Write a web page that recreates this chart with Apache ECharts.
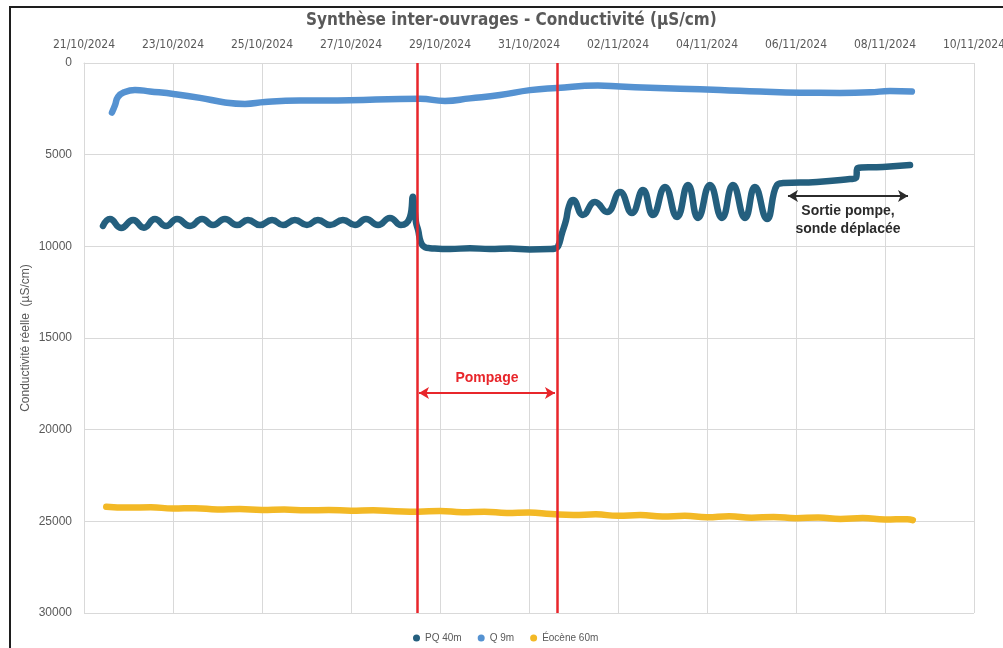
<!DOCTYPE html>
<html>
<head>
<meta charset="utf-8">
<title>Synthèse inter-ouvrages - Conductivité</title>
<script src="https://cdn.jsdelivr.net/npm/echarts@6/dist/echarts.min.js"></script>
<style>
  html, body { margin: 0; padding: 0; background: #fff; overflow: hidden; }
  #chart { width: 100vw; height: 100vh; }
</style>
</head>
<body>
<div id="chart"></div>
<script>
  // relevés : date/heure et conductivité réelle (µS/cm)
  const pqTimes = [
    '2024-10-21 10:15', '2024-10-21 14:00', '2024-10-21 20:00', '2024-10-22 02:30', '2024-10-22 08:20',
    '2024-10-22 14:15', '2024-10-22 20:15', '2024-10-23 02:10', '2024-10-23 09:10', '2024-10-23 15:40',
    '2024-10-23 21:35', '2024-10-24 04:00', '2024-10-24 10:30', '2024-10-24 16:25', '2024-10-24 22:55',
    '2024-10-25 05:25', '2024-10-25 11:20', '2024-10-25 17:45', '2024-10-26 00:15', '2024-10-26 06:10',
    '2024-10-26 12:40', '2024-10-26 19:40', '2024-10-27 02:10', '2024-10-27 08:05', '2024-10-27 14:35',
    '2024-10-27 21:00', '2024-10-28 02:55', '2024-10-28 07:50', '2024-10-28 09:25', '2024-10-28 10:00',
    '2024-10-28 11:05', '2024-10-28 12:10', '2024-10-28 13:45', '2024-10-28 15:55', '2024-10-28 18:35',
    '2024-10-29 05:25', '2024-10-29 16:10', '2024-10-30 02:55', '2024-10-30 13:45', '2024-10-31 00:30',
    '2024-10-31 11:20', '2024-10-31 14:00', '2024-10-31 15:40', '2024-10-31 17:45', '2024-10-31 19:55',
    '2024-10-31 21:35', '2024-10-31 23:45', '2024-11-01 05:05', '2024-11-01 11:35', '2024-11-01 18:05',
    '2024-11-02 01:05', '2024-11-02 07:30', '2024-11-02 13:30', '2024-11-02 18:50', '2024-11-03 01:20',
    '2024-11-03 07:50', '2024-11-03 13:45', '2024-11-03 19:10', '2024-11-04 01:35', '2024-11-04 08:05',
    '2024-11-04 14:00', '2024-11-04 20:30', '2024-11-05 01:50', '2024-11-05 08:20', '2024-11-05 13:45',
    '2024-11-05 17:00', '2024-11-06 11:20', '2024-11-07 05:05', '2024-11-07 08:20', '2024-11-07 09:10',
    '2024-11-07 22:55', '2024-11-08 13:30'
  ];
  const pqValues = [
    8890, 8510, 9000, 8560, 8980,
    8510, 8890, 8510, 8890, 8510,
    8840, 8510, 8840, 8560, 8840,
    8560, 8840, 8560, 8840, 8560,
    8840, 8560, 8840, 8510, 8840,
    8450, 8840, 8400, 7300, 7700,
    8700, 9100, 9800, 10050, 10100,
    10150, 10100, 10150, 10120, 10170,
    10150, 10120, 10000, 9300, 8600,
    7800, 7470, 8290, 7580, 8130,
    7040, 8180, 6930, 8290, 6760,
    8400, 6650, 8450, 6650, 8450,
    6650, 8450, 6760, 8510, 6650,
    6550, 6490, 6330, 6270, 5730,
    5670, 5560
  ];

  const qTimes = [
    '2024-10-21 15:05', '2024-10-21 16:45', '2024-10-21 18:20', '2024-10-21 21:35', '2024-10-22 03:30',
    '2024-10-22 11:35', '2024-10-23 01:05', '2024-10-23 14:35', '2024-10-24 04:00', '2024-10-24 14:50',
    '2024-10-25 01:35', '2024-10-25 20:30', '2024-10-26 23:30', '2024-10-28 02:25', '2024-10-28 13:10',
    '2024-10-29 02:40', '2024-10-29 16:10', '2024-10-30 08:20', '2024-10-31 00:30', '2024-10-31 15:05',
    '2024-11-01 13:10', '2024-11-02 01:05', '2024-11-02 17:15', '2024-11-03 09:25', '2024-11-04 07:00',
    '2024-11-05 04:35', '2024-11-06 02:10', '2024-11-06 23:40', '2024-11-07 15:55', '2024-11-08 02:40',
    '2024-11-08 14:30'
  ];
  const qValues = [
    2700, 2300, 1850, 1600, 1470,
    1550, 1700, 1900, 2150, 2230,
    2130, 2050, 2030, 1960, 1950,
    2070, 1930, 1750, 1480, 1360,
    1230, 1280, 1350, 1400, 1470,
    1560, 1620, 1630, 1600, 1530,
    1560
  ];

  const eoTimes = [
    '2024-10-21 12:00', '2024-10-22 00:00', '2024-10-22 12:00', '2024-10-23 00:00', '2024-10-23 12:00',
    '2024-10-24 00:00', '2024-10-24 12:00', '2024-10-25 00:00', '2024-10-25 12:00', '2024-10-26 00:00',
    '2024-10-26 12:00', '2024-10-27 00:00', '2024-10-27 12:00', '2024-10-28 00:00', '2024-10-28 12:00',
    '2024-10-29 00:00', '2024-10-29 12:00', '2024-10-30 00:00', '2024-10-30 12:00', '2024-10-31 00:00',
    '2024-10-31 12:00', '2024-11-01 00:00', '2024-11-01 12:00', '2024-11-02 00:00', '2024-11-02 12:00',
    '2024-11-03 00:00', '2024-11-03 12:00', '2024-11-04 00:00', '2024-11-04 12:00', '2024-11-05 00:00',
    '2024-11-05 12:00', '2024-11-06 00:00', '2024-11-06 12:00', '2024-11-07 00:00', '2024-11-07 12:00',
    '2024-11-08 00:00', '2024-11-08 12:00', '2024-11-08 15:00'
  ];
  const eoValues = [
    24200, 24250, 24230, 24300, 24280,
    24350, 24330, 24380, 24360, 24400,
    24380, 24420, 24400, 24450, 24480,
    24430, 24500, 24480, 24540, 24520,
    24600, 24650, 24620, 24700, 24660,
    24740, 24700, 24780, 24720, 24800,
    24760, 24830, 24790, 24870, 24820,
    24900, 24880, 24930
  ];

  // période de pompage (lignes rouges) et annotations
  const pumpTimes = ['2024-10-28 11:35', '2024-10-31 15:05'];
  const pompageArrow = { times: ['2024-10-28 12:40', '2024-10-31 14:00'], value: 18000, text: 'Pompage' };
  const sortieArrow = { times: ['2024-11-05 19:40', '2024-11-08 12:25'], value: 7250, text: 'Sortie pompe,\nsonde déplacée' };

  const seriesNames = ['PQ 40m', 'Q 9m', 'Éocène 60m'];
  const seriesColors = ['#245f7e', '#5592d1', '#f3b926'];

  const T0 = Date.UTC(2024, 9, 21);
  // convertit 'YYYY-MM-DD HH:mm' en jours depuis le 21/10/2024
  function toDay(s) {
    const p = s.split(/[- :]/).map(Number);
    return (Date.UTC(p[0], p[1] - 1, p[2], p[3], p[4]) - T0) / 86400000;
  }
  function dayLabel(d) {
    const dt = new Date(T0 + d * 86400000);
    const pad = n => (n < 10 ? '0' : '') + n;
    return pad(dt.getUTCDate()) + '/' + pad(dt.getUTCMonth() + 1) + '/' + dt.getUTCFullYear();
  }
  function pairs(times, values) {
    return times.map((t, i) => [toDay(t), values[i]]);
  }

  const narrow = "'Liberation Sans Narrow', 'DejaVu Sans Condensed', sans-serif";
  const sans = 'Liberation Sans, Arial, sans-serif';
  const grey = '#595959';

  const chart = echarts.init(document.getElementById('chart'));

  const lineSeries = [[pqTimes, pqValues], [qTimes, qValues], [eoTimes, eoValues]].map((d, i) => ({
    name: seriesNames[i],
    type: 'line',
    data: pairs(d[0], d[1]),
    showSymbol: false,
    symbol: 'circle',
    smooth: 0.5,
    color: seriesColors[i],
    lineStyle: { width: 6.5, color: seriesColors[i], cap: 'round', join: 'round' },
    z: 3
  }));

  // flèche double horizontale avec son texte
  function arrowLine(a, color, pos) {
    return [
      {
        coord: [toDay(a.times[0]), a.value],
        symbol: 'arrow',
        symbolSize: [9, 10],
        lineStyle: { color: color, width: 2, type: 'solid' },
        label: {
          show: true, formatter: a.text, position: pos, distance: 6,
          color: color, fontSize: 14, fontWeight: 'bold', lineHeight: 18, fontFamily: sans
        }
      },
      { coord: [toDay(a.times[1]), a.value], symbol: 'arrow', symbolSize: [9, 10] }
    ];
  }

  const option = {
    animation: false,
    backgroundColor: '#fff',
    title: {
      text: 'Synthèse inter-ouvrages - Conductivité (µS/cm)',
      left: 301,
      top: 7,
      textStyle: { fontSize: 17, fontWeight: 'bold', color: grey, fontFamily: narrow }
    },
    legend: {
      data: seriesNames,
      bottom: 0,
      left: 408,
      icon: 'circle',
      itemWidth: 7,
      itemHeight: 7,
      itemGap: 16,
      textStyle: { fontSize: 10, color: grey, fontFamily: sans }
    },
    grid: { left: 84, right: 29, top: 63, bottom: 35, outerBoundsMode: 'none' },
    xAxis: {
      type: 'value',
      position: 'top',
      min: 0,
      max: 20,
      interval: 2,
      axisLine: { show: true, lineStyle: { color: '#d9d9d9' } },
      axisTick: { show: false },
      axisLabel: { formatter: dayLabel, color: grey, fontSize: 12, fontFamily: narrow, margin: 12 },
      splitLine: { show: true, lineStyle: { color: '#d9d9d9', width: 1 } }
    },
    yAxis: {
      type: 'value',
      inverse: true,
      min: 0,
      max: 30000,
      interval: 5000,
      name: 'Conductivité réelle  (µS/cm)',
      nameLocation: 'middle',
      nameGap: 52,
      nameMoveOverlap: false,
      nameTextStyle: { color: grey, fontSize: 12, fontFamily: sans },
      axisLine: { show: true, lineStyle: { color: '#d9d9d9' } },
      axisTick: { show: false },
      axisLabel: { formatter: v => String(v), color: grey, fontSize: 12, margin: 12, fontFamily: sans },
      splitLine: { show: true, lineStyle: { color: '#d9d9d9', width: 1 } }
    },
    graphic: [{
      type: 'rect',
      shape: { x: 10, y: 7, width: 1010, height: 700 },
      style: { fill: 'none', stroke: '#1e1e1e', lineWidth: 2 },
      silent: true
    }],
    series: lineSeries.concat([{
      name: 'annotations',
      type: 'line',
      data: [],
      z: 5,
      markLine: {
        silent: true,
        symbol: ['none', 'none'],
        label: { show: false },
        data: [
          { xAxis: toDay(pumpTimes[0]), lineStyle: { color: '#e8262b', width: 2.5, type: 'solid' } },
          { xAxis: toDay(pumpTimes[1]), lineStyle: { color: '#e8262b', width: 2.5, type: 'solid' } },
          arrowLine(pompageArrow, '#e8262b', 'insideMiddleTop'),
          arrowLine(sortieArrow, '#2b2b2b', 'insideMiddleBottom')
        ]
      }
    }])
  };

  chart.setOption(option);
  window.addEventListener('resize', function () { chart.resize(); });
</script>
</body>
</html>
